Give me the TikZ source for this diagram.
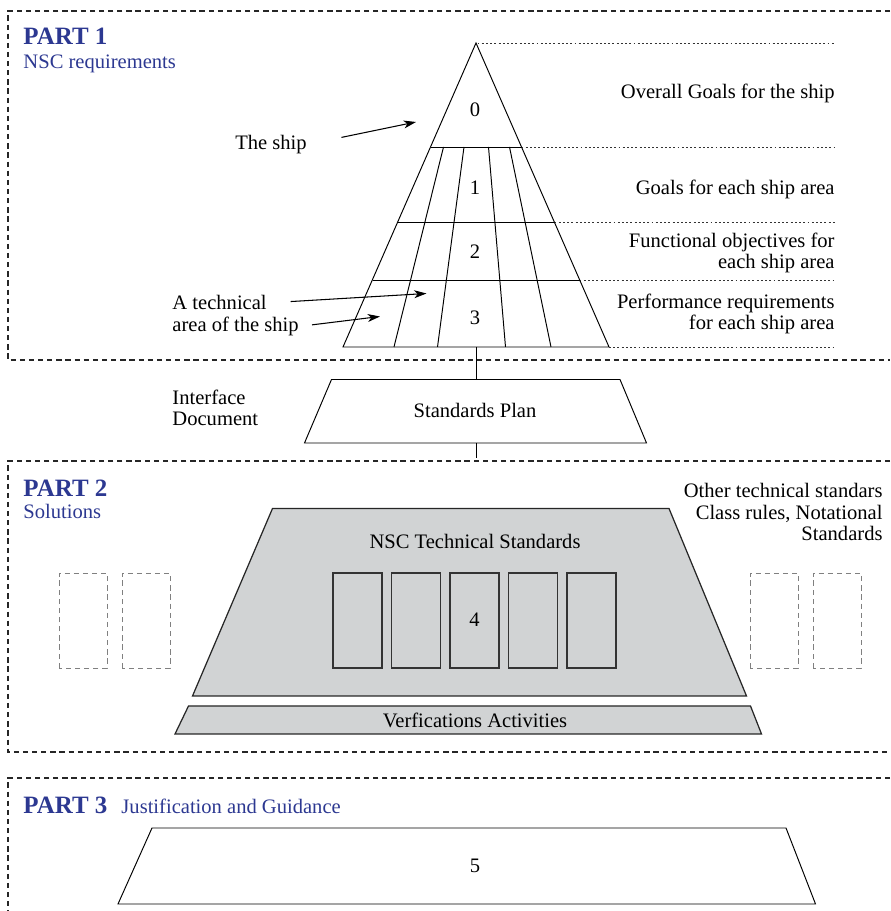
\documentclass[tikz,border=0pt]{standalone}
\usepackage{fontspec}
\setmainfont{Liberation Serif}
\usepackage{tikz}
\usetikzlibrary{arrows.meta}

\definecolor{partblue}{RGB}{44,56,145}
\definecolor{stdgray}{RGB}{209,211,212}

\tikzset{
  txt/.style={font=\fontsize{11.7}{12}\selectfont, inner sep=0pt},
  parttitle/.style={font=\fontsize{14.2}{16}\selectfont\bfseries, text=partblue, inner sep=0pt, anchor=base west},
  partsub/.style={font=\fontsize{11.7}{12}\selectfont, text=partblue, inner sep=0pt, anchor=base west},
  partbox/.style={dash pattern=on 3pt off 2.2pt, line width=0.6pt, black!85},
  guide/.style={dash pattern=on 1.1pt off 1.3pt, line width=0.45pt, black!80},
  pointer/.style={-{Stealth[length=7pt,width=4.5pt,inset=2pt]}, line width=0.6pt},
  ghostbox/.style={dash pattern=on 3pt off 2.2pt, line width=0.55pt, gray},
  techbox/.style={draw=black!80, line width=0.7pt},
  shelf/.style={fill=stdgray, draw=black!85, line width=0.7pt}
}

\begin{document}
\begin{tikzpicture}[line width=0.55pt]
\useasboundingbox (0,0) rectangle (17.8,18.22);

\draw[partbox] (17.8,18.0) -- (0.16,18.0) -- (0.16,11.02) -- (17.8,11.02);
\node[parttitle] (p1) at (0.46,17.32) {PART 1};
\node[partsub] (p1sub) at (0.46,16.85) {NSC requirements};

\coordinate (apex) at (9.52,17.36);
\coordinate (baseL) at (6.86,11.28);
\coordinate (baseR) at (12.18,11.28);
\coordinate (baseC) at (9.52,11.28);
\draw (apex) -- (baseL) -- (baseR) -- cycle;

\foreach \y/\l/\r in {15.28/8.61/10.43, 13.77/7.95/11.09, 12.62/7.45/11.59}{
    \draw (\l,\y) -- (\r,\y);
}
\foreach \a/\b in {8.87/7.88, 9.28/8.75, 9.77/10.11, 10.19/11.02}{
    \draw (\a,15.28) -- (\b,11.28);
}
\foreach \x/\y in {9.55/17.36, 10.43/15.28, 11.09/13.77, 11.59/12.62, 12.18/11.28}{
    \draw[guide] (\x,\y) -- (16.7,\y);
}

\node[txt] (lvl0) at (9.5,16.02) {0};
\node[txt] (lvl1) at (9.5,14.46) {1};
\node[txt] (lvl2) at (9.5,13.18) {2};
\node[txt] (lvl3) at (9.5,11.86) {3};

\node[txt, anchor=east] (goal0) at (16.7,16.36) {Overall Goals for the ship};
\node[txt, anchor=east] (goal1) at (16.7,14.44) {Goals for each ship area};
\node[txt, anchor=east, align=right] (goal2) at (16.7,13.16)%
{Functional objectives for\\each ship area};
\node[txt, anchor=east, align=right] (goal3) at (16.7,11.94)%
{Performance requirements\\for each ship area};

\node[txt] (ship) at (5.42,15.33) {The ship};
\coordinate (shiptip) at (8.32,15.78);
\draw[pointer, shorten <=0.7cm] (ship.east) -- (shiptip);

\node[txt, anchor=base west] (area1) at (3.44,12.02) {A technical};
\node[txt, anchor=base west] (area2) at (3.44,11.59) {area of the ship};
\coordinate (areatip1) at (8.53,12.35);
\coordinate (areatip2) at (7.6,11.89);
\draw[pointer, shorten <=0.47cm] (area1.east) -- (areatip1);
\draw[pointer, shorten <=0.26cm] (area2.east) -- (areatip2);

\draw (6.63,10.63) -- (12.4,10.63) -- (12.93,9.36) -- (6.09,9.36) -- cycle;
\node[txt] (plan) at (9.5,10.02) {Standards Plan};
\coordinate (planTop) at (9.52,10.63);
\coordinate (planBot) at (9.52,9.36);
\coordinate (planLink) at (9.52,9.06);
\draw (baseC) -- (planTop);
\draw (planBot) -- (planLink);

\node[txt, anchor=west, align=left] (iface) at (3.44,10.06)%
{Interface\\Document};

\draw[partbox] (17.8,9.0) -- (0.16,9.0) -- (0.16,3.18) -- (17.8,3.18);
\node[parttitle] (p2) at (0.46,8.29) {PART 2};
\node[partsub] (p2sub) at (0.46,7.84) {Solutions};

\draw[shelf] (5.45,8.05) -- (13.38,8.05) -- (14.93,4.30) -- (3.85,4.30) -- cycle;
\node[txt] (nsc) at (9.5,7.4) {NSC Technical Standards};
\foreach \i in {0,...,4}{
    \draw[techbox] ({6.66+1.17*\i},4.86) rectangle ++(0.98,1.9);
}
\node[txt] (std4) at (9.49,5.82) {4};

\foreach \x in {1.18,2.44,15.0,16.26}{
    \draw[ghostbox] (\x,4.86) rectangle ++(0.96,1.9);
}

\draw[shelf] (3.77,4.10) -- (15.01,4.10) -- (15.23,3.54) -- (3.5,3.54) -- cycle;
\node[txt] (verif) at (9.5,3.82) {Verfications Activities};

\node[txt, anchor=east, align=right] (other) at (17.66,7.98)%
{Other technical standars\\Class rules, Notational\\Standards};

\draw[partbox] (17.8,2.66) -- (0.16,2.66) -- (0.16,0);
\node[parttitle] (p3) at (0.46,1.95) {PART 3};
\node[partsub] (p3sub) at (2.42,1.95) {Justification and Guidance};

\draw (3.04,1.66) -- (15.72,1.66) -- (16.31,0.14) -- (2.36,0.14) -- cycle;
\node[txt] (guide5) at (9.5,0.9) {5};

\end{tikzpicture}
\end{document}
